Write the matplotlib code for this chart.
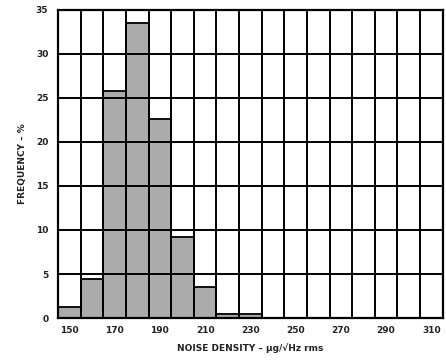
import matplotlib
matplotlib.use("Agg")
import matplotlib.pyplot as plt
import numpy as np

bin_centers = [150, 160, 170, 180, 190, 200, 210, 220, 230, 240, 250, 260, 270, 280, 290, 300, 310]
frequency = [1.2, 4.4, 25.8, 33.5, 22.6, 9.2, 3.5, 0.4, 0.4, 0, 0, 0, 0, 0, 0, 0, 0]
x_tick_labels = [150, 170, 190, 210, 230, 250, 270, 290, 310]
y_tick_labels = [0, 5, 10, 15, 20, 25, 30, 35]

fig = plt.figure(figsize=(4.46, 3.62), dpi=100)
ax = fig.add_axes([0.130, 0.1215, 0.8626, 0.851])

ax.bar(bin_centers, frequency, width=10, color="#ababab", edgecolor="black",
       linewidth=1.3, zorder=2)

ax.set_xlim(145, 315)
ax.set_ylim(0, 35)
ax.set_xticks(x_tick_labels)
ax.set_xticklabels([str(v) for v in x_tick_labels])
ax.set_xticks(np.arange(145, 316, 10), minor=True)
ax.set_yticks(y_tick_labels)
ax.set_yticklabels([str(v) for v in y_tick_labels])

ax.grid(False)
ax.xaxis.grid(True, which="minor", color="black", linewidth=1.4, zorder=3)
ax.yaxis.grid(True, which="major", color="black", linewidth=1.4, zorder=3)
ax.set_axisbelow(False)

for s in ax.spines.values():
    s.set_linewidth(1.6)
    s.set_zorder(4)

ax.tick_params(axis="both", which="both", length=0)
ax.tick_params(axis="x", pad=6)
ax.tick_params(axis="y", pad=7)
for lab in ax.get_xticklabels() + ax.get_yticklabels():
    lab.set_fontsize(6.5)
    lab.set_fontweight("bold")
    lab.set_color("#222222")

ax.set_xlabel("NOISE DENSITY – µg/√Hz rms", fontsize=6.5, fontweight="bold",
              color="#222222", labelpad=6)
ax.set_ylabel("FREQUENCY – %", fontsize=6.5, fontweight="bold",
              color="#222222", labelpad=6)

fig.savefig("out.png", dpi=100)
